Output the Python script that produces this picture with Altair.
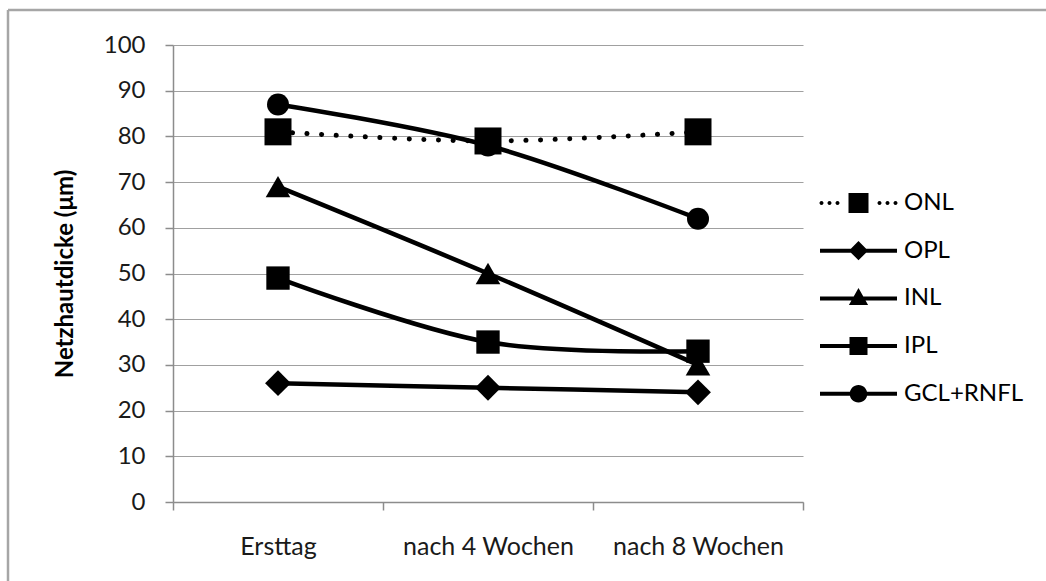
import altair as alt
import pandas as pd

# Netzhautdicke der einzelnen Schichten über die Zeit
zeit = ["Ersttag", "nach 4 Wochen", "nach 8 Wochen"]
schichten = ["ONL", "OPL", "INL", "IPL", "GCL+RNFL"]
onl = [81, 79, 81]
opl = [26, 25, 24]
inl = [69, 50, 30]
ipl = [49, 35, 33]
gcl_rnfl = [87, 78, 62]
y_ticks = [0, 10, 20, 30, 40, 50, 60, 70, 80, 90, 100]

werte = {"ONL": onl, "OPL": opl, "INL": inl, "IPL": ipl, "GCL+RNFL": gcl_rnfl}
df = pd.DataFrame(
    [{"Zeit": z, "Schicht": s, "Dicke": v}
     for s in schichten for z, v in zip(zeit, werte[s])]
)

FONT = "Lato"
W, H = 630, 457
PAD_L, PAD_T = 173, 45

# Legend glyphs: line + marker combined in one filled path.
# Unit = half of sqrt(symbolSize); the glyph is wider than the unit box.
def rect(x0, y0, x1, y1):
    return f"M{x0},{y0}H{x1}V{y1}H{x0}Z"

def dot(cx, r):
    return f"M{cx - r},0A{r},{r} 0 1 1 {cx + r},0A{r},{r} 0 1 1 {cx - r},0Z"

half = 1.925
lw = 0.1
leg_onl = "".join(dot(c, 0.1) for c in (-1.85, -1.45, -1.05, 1.05, 1.45, 1.85)) + rect(-0.5, -0.5, 0.5, 0.5)
leg_opl = rect(-half, -lw, half, lw) + "M0,-0.48L0.48,0L0,0.48L-0.48,0Z"
leg_inl = rect(-half, -lw, half, lw) + "M0,-0.52L0.48,0.33L-0.48,0.33Z"
leg_ipl = rect(-half, -lw, half, lw) + rect(-0.45, -0.45, 0.45, 0.45)
leg_gcl = rect(-half, -lw, half, lw) + "M-0.44,0A0.44,0.44 0 1 1 0.44,0A0.44,0.44 0 1 1 -0.44,0Z"

x_enc = alt.X(
    "Zeit:O", sort=zeit,
    scale=alt.Scale(type="band", paddingInner=0, paddingOuter=0),
    axis=alt.Axis(title=None, tickBand="extent", labelAngle=0, labelPadding=24,
                  labelFontSize=25),
)
y_enc = alt.Y(
    "Dicke:Q",
    scale=alt.Scale(domain=[0, 100], nice=False),
    axis=alt.Axis(values=y_ticks, title="Netzhautdicke (μm)", labelPadding=20,
                  titlePadding=26, grid=True),
)

base = alt.Chart(df).encode(x=x_enc, y=y_enc)

solid = base.transform_filter(alt.datum.Schicht != "ONL").mark_line(
    color="black", strokeWidth=4.5, interpolate="cardinal"
).encode(detail="Schicht:N")

dotted = base.transform_filter(alt.datum.Schicht == "ONL").mark_line(
    color="black", strokeWidth=5, strokeDash=[0.1, 14.5], strokeCap="round",
    interpolate="cardinal"
)

marker = base.mark_point(filled=True, color="black", opacity=1).encode(
    shape=alt.Shape("Schicht:N", scale=alt.Scale(
        domain=schichten,
        range=["square", "diamond", "triangle-up", "square", "circle"]), legend=None),
    size=alt.Size("Schicht:N", scale=alt.Scale(
        domain=schichten, range=[729, 484, 484, 441, 729]), legend=None),
)

legend_layer = base.mark_point(filled=True, color="black", opacity=0).encode(
    shape=alt.Shape("Schicht:N", scale=alt.Scale(
        domain=schichten, range=[leg_onl, leg_opl, leg_inl, leg_ipl, leg_gcl]),
        legend=alt.Legend(
            title=None, orient="none", legendX=665.5, legendY=138,
            symbolSize=1600, symbolOpacity=1, symbolFillColor="black",
            symbolStrokeWidth=0, labelFont=FONT, labelFontSize=24,
            labelColor="black", labelOffset=25.5, rowPadding=15.7,
        )),
)

border = alt.Chart(alt.Data(values=[{}])).mark_rule(color="#a6a6a6", strokeWidth=2.5)
border_left = border.encode(x=alt.value(8 - PAD_L), y=alt.value(10 - PAD_T), y2=alt.value(600))
border_top = border.encode(x=alt.value(8 - PAD_L), x2=alt.value(1100), y=alt.value(10 - PAD_T))

chart = alt.layer(
    border_left, border_top, solid, dotted, marker, legend_layer
).resolve_scale(
    shape="independent", size="independent"
).properties(
    width=W, height=H,
    autosize=alt.AutoSizeParams(type="none"),
    padding={"left": PAD_L, "top": PAD_T, "right": 1046 - PAD_L - W, "bottom": 581 - PAD_T - H},
    background="white",
).configure_view(stroke=None).configure_axis(
    labelFont=FONT, labelFontSize=24, labelColor="#1a1a1a",
    titleFont=FONT, titleFontSize=24, titleFontWeight="bold", titleColor="black",
    domainColor="#8c8c8c", domainWidth=1.5, tickColor="#8c8c8c", tickWidth=1.5,
    tickSize=8, gridColor="#a0a0a0", gridWidth=1.2,
).configure_axisX(grid=False)

chart.save("out.html", embed_options={"renderer": "svg", "actions": False})
